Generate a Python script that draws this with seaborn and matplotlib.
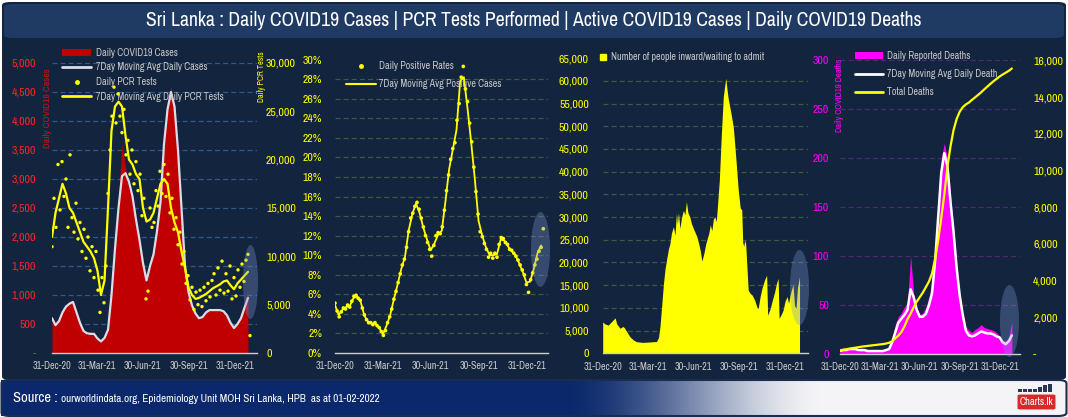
import numpy as np
import pandas as pd
import matplotlib
matplotlib.use("Agg")
import matplotlib.pyplot as plt
import seaborn as sns
from matplotlib import font_manager as fm
from matplotlib.patches import FancyBboxPatch, Ellipse, Patch, Rectangle
from matplotlib.lines import Line2D

# ---------------- DATA ----------------
week_dates = pd.date_range("2020-12-31", periods=57, freq="7D")
scatter_dates = pd.date_range("2020-12-31", periods=100, freq="4D")

daily_cases = [650, 500, 600, 750, 820, 900, 850, 650, 480, 420,
               300, 380, 280, 240, 210, 300, 450, 1200, 2000, 2700,
               3600, 3200, 2800, 2750, 2200, 1900, 1450, 1200, 1550, 1800,
               2300, 2900, 3800, 4300, 4600, 4100, 3300, 2300, 1400, 1000,
               780, 650, 580, 640, 720, 750, 730, 760, 720, 700,
               600, 480, 420, 540, 650, 850, 1050]
cases_7day = [600, 480, 550, 700, 800, 850, 880, 700, 520, 380,
              340, 330, 330, 250, 200, 260, 400, 1000, 1800, 2500,
              3050, 3100, 2950, 2700, 2300, 1950, 1550, 1250, 1500, 1700,
              2100, 2600, 3600, 4200, 4500, 4250, 3500, 2500, 1500, 1050,
              820, 680, 600, 620, 700, 740, 740, 740, 740, 720,
              650, 520, 430, 500, 600, 780, 950]
pcr_7day = [12000, 14500, 16000, 17500, 16500, 15000, 14500, 13500, 12500, 11500,
            11000, 10500, 9800, 8500, 6000, 7500, 15000, 23000, 25500, 26000,
            25500, 22500, 20000, 19500, 18500, 18000, 15000, 13600, 13800, 14500,
            16000, 17500, 18000, 17500, 15000, 13500, 12500, 10500, 8800, 6800,
            6000, 5600, 5700, 5900, 6100, 6400, 6700, 6900, 7100, 7400,
            7500, 7000, 6600, 7200, 7600, 8000, 8400]
pcr_daily = [11000, 16000, 13000, 19500, 14800, 19800, 16200, 18000, 13000, 20500,
             14000, 12500, 15500, 11800, 13500, 10500, 12800, 9800, 12000, 8500,
             11000, 7800, 10500, 6500, 4200, 7800, 5200, 9000, 16500, 21000,
             24500, 27500, 23800, 26800, 24500, 22800, 25200, 20500, 22000, 18500,
             21000, 17500, 19800, 16800, 18500, 14200, 16000, 5600, 6400, 15000,
             13000, 13500, 16800, 15200, 18800, 16500, 19500, 16200, 18500, 14500,
             16000, 12800, 14000, 11200, 12500, 9200, 10500, 7200, 8000, 5500,
             6800, 4500, 6300, 5000, 6500, 4800, 6800, 5400, 7200, 5800,
             7500, 8200, 6000, 8800, 6500, 9500, 6200, 8200, 6400, 9000,
             5600, 7800, 5900, 8600, 6800, 9200, 7400, 9600, 10200, 1800]

positivity_7day = [4.9, 3.9, 4.4, 4.7, 4.8, 5.6, 5.8, 5.2, 3.8, 3.2,
                   3.0, 3.0, 2.6, 1.9, 2.8, 3.9, 5.5, 7.0, 8.6, 9.8,
                   12.5, 14.2, 15.3, 14.3, 12.8, 11.6, 10.5, 11.2, 12.1, 12.5,
                   15.5, 18.8, 20.8, 22.8, 27.8, 28.2, 25.0, 21.5, 17.7, 13.5,
                   12.0, 10.8, 10.0, 10.0, 10.1, 11.6, 11.5, 10.9, 10.4, 10.0,
                   9.2, 8.3, 7.2, 7.3, 8.6, 10.2, 11.0]
positivity_daily = [5.1, 4.3, 3.7, 4.2, 4.6, 4.5, 4.9, 4.7, 5.3, 5.8,
                    5.9, 5.6, 5.4, 4.6, 3.9, 3.4, 3.1, 3.1, 2.9, 3.1,
                    2.8, 2.6, 2.2, 1.8, 2.3, 3.1, 3.7, 4.5, 5.5, 6.3,
                    7.2, 8.1, 9.0, 9.6, 10.8, 12.4, 13.8, 14.3, 15.0, 15.4,
                    14.7, 13.8, 12.9, 12.0, 11.3, 10.6, 9.9, 11.0, 12.0, 12.3,
                    12.2, 12.9, 14.6, 16.6, 18.2, 19.8, 20.9, 21.5, 23.8, 25.5,
                    28.2, 29.3, 27.0, 25.7, 23.5, 21.6, 19.0, 16.5, 14.2, 12.4,
                    11.9, 11.2, 10.6, 9.8, 10.2, 9.7, 10.2, 9.8, 11.1, 11.8,
                    11.7, 11.3, 11.1, 10.6, 10.5, 10.2, 9.9, 9.5, 9.0, 8.5,
                    8.0, 7.0, 6.2, 7.5, 8.2, 9.0, 9.6, 10.4, 10.8, 12.7]

active_days = [0, 4, 11, 18, 25, 28, 35, 40, 43, 48,
               55, 62, 68, 80, 95, 108, 112, 115, 118, 122,
               125, 128, 132, 135, 138, 142, 145, 148, 150, 152,
               155, 158, 162, 165, 168, 171, 175, 178, 183, 189,
               193, 196, 199, 203, 207, 213, 216, 219, 222, 225,
               228, 230, 234, 238, 242, 245, 247, 249, 252, 255,
               258, 262, 265, 268, 272, 276, 279, 281, 283, 285,
               287, 292, 296, 300, 305, 310, 312, 316, 320, 325,
               329, 331, 336, 340, 345, 349, 352, 354, 358, 362,
               366, 370, 373, 376, 380, 382, 385, 388, 391, 395]
active_cases = [6900, 6500, 6200, 7000, 7800, 6500, 5500, 5900, 5700, 4800,
                3600, 2900, 2550, 2400, 2500, 2600, 3500, 5900, 10000, 15400,
                18500, 20500, 23000, 24200, 26500, 27900, 26000, 30800, 28500, 31000,
                27500, 29800, 31500, 30500, 33400, 31000, 30000, 28600, 27200, 25700,
                24000, 22500, 20300, 22000, 24200, 26500, 28300, 27000, 29500, 30100,
                29000, 32000, 38000, 48000, 56500, 59000, 60600, 58500, 56000, 54300,
                52500, 49900, 46000, 41800, 36000, 32000, 31600, 24500, 23500, 25000,
                24000, 13900, 13200, 12800, 11700, 10000, 9900, 12500, 14500, 16200,
                17200, 8400, 9800, 11500, 13500, 15500, 16500, 7700, 8500, 9500,
                11500, 12500, 11000, 12800, 14500, 15000, 10500, 9900, 14500, 16900]

daily_deaths = [4, 6, 5, 7, 6, 7, 5, 6, 4, 5,
                3, 4, 4, 3, 4, 5, 7, 15, 30, 38,
                42, 48, 52, 100, 62, 48, 40, 42, 48, 58,
                75, 110, 160, 200, 215, 200, 165, 130, 95, 62,
                42, 28, 24, 22, 25, 27, 30, 27, 26, 25,
                24, 22, 18, 14, 13, 17, 33]
deaths_7day = [3, 4, 4, 5, 5, 5, 4, 4, 4, 3,
               3, 3, 3, 3, 3, 4, 5, 12, 22, 32,
               36, 40, 45, 66, 58, 45, 38, 38, 41, 50,
               62, 95, 140, 185, 205, 192, 155, 125, 88, 60,
               40, 24, 19, 18, 19, 21, 23, 22, 21, 21,
               20, 18, 17, 12, 10, 13, 19]
total_deaths = [200, 230, 260, 290, 320, 345, 370, 400, 420, 440,
                460, 480, 500, 520, 540, 570, 610, 700, 850, 1000,
                1200, 1500, 1900, 2200, 2550, 2850, 3100, 3350, 3650, 3950,
                4400, 5200, 6200, 7400, 8700, 10200, 11300, 12200, 12800, 13200,
                13450, 13600, 13700, 13850, 13980, 14120, 14260, 14420, 14570, 14720,
                14860, 14990, 15120, 15230, 15330, 15430, 15560]

tick_dates = pd.to_datetime(["2020-12-31", "2021-03-31", "2021-06-30", "2021-09-30", "2021-12-31"])
tick_labels = ["31-Dec-20", "31-Mar-21", "30-Jun-21", "30-Sep-21", "31-Dec-21"]

title_text = ("Sri Lanka : Daily COVID19 Cases | PCR Tests Performed | "
              "Active COVID19 Cases | Daily COVID19 Deaths")
source_head = "Source :"
source_body = "ourworldindata.org, Epidemiology Unit MOH Sri Lanka, HPB  as at 01-02-2022"

# ---------------- STYLE ----------------
sns.set_theme(style="dark")

cond = None
for pref in ["narrow", "condensed"]:
    for f in fm.fontManager.ttflist:
        fn = f.fname.lower()
        if pref in fn and "italic" not in fn and "oblique" not in fn:
            cond = f.name
            break
    if cond:
        break
if cond:
    FAM = cond
    plt.rcParams["font.stretch"] = "condensed"
    K = 1.0
else:
    FAM = "Liberation Sans"
    K = 0.86
plt.rcParams["font.family"] = [FAM, "DejaVu Sans"]

W, H = 1068, 417
BG = "#13243e"
RED = "#c00000"
WHITE_LINE = "#dcdce8"
YEL = "#ffff00"
MAG = "#ff00ff"
GREY_TXT = "#c8c8c8"
LEG_FS = 7.2 * K

def rect(x0, y0, x1, y1):
    return [x0 / W, 1 - y1 / H, (x1 - x0) / W, (y1 - y0) / H]

fig = plt.figure(figsize=(W / 100, H / 100), dpi=100, facecolor="white")

# background panels
fig.add_artist(FancyBboxPatch((2 / W, 1 - 380 / H), 1064 / W, 378 / H,
                              boxstyle="round,pad=0,rounding_size=0.008",
                              transform=fig.transFigure, fc=BG, ec="none", zorder=-10))
fig.add_artist(FancyBboxPatch((4 / W, 1 - 38 / H), 1060 / W, 34 / H,
                              boxstyle="round,pad=0,rounding_size=0.008",
                              transform=fig.transFigure, fc="#1f3a63", ec="none", zorder=-9))

# bottom gradient bar
axg = fig.add_axes(rect(1, 380, 1067, 416), zorder=-8)
xs = np.arange(1066) + 1
t = np.clip((xs - 560) / 270.0, 0, 1)
t = t * t * (3 - 2 * t)
navy = np.array([0.04, 0.16, 0.42])
wht = np.array([0.96, 0.96, 0.97])
grad = (navy[None, :] * (1 - t[:, None]) + wht[None, :] * t[:, None])[None, :, :]
axg.imshow(grad, aspect="auto", extent=(0, 1, 0, 1))
axg.set_axis_off()
fig.add_artist(FancyBboxPatch((1.5 / W, 1 - 416 / H), 1065 / W, 36 / H,
                              boxstyle="round,pad=0,rounding_size=0.008",
                              transform=fig.transFigure, fc="none", ec="#1a2d4f", lw=1.5, zorder=-7))

fig.text(534 / W, 1 - 21 / H, title_text, ha="center", va="center", color="white",
         fontsize=14.2 * K, fontweight="bold")
fig.text(13 / W, 1 - 398 / H, source_head, ha="left", va="center", color="white",
         fontsize=10.5 * K, fontweight="bold")
fig.text(61 / W, 1 - 399 / H, source_body, ha="left", va="center", color="white",
         fontsize=8 * K)

# logo
fig.add_artist(FancyBboxPatch((1017 / W, 1 - 410 / H), 39 / W, 16 / H,
                              boxstyle="round,pad=0,rounding_size=0.003",
                              transform=fig.transFigure, fc="#d42a2a", ec="#f0f0f0", lw=0.8))
fig.text(1036.5 / W, 1 - 402 / H, "Charts.lk", ha="center", va="center", color="white",
         fontsize=7.5 * K, fontweight="bold")
for i, hgt in enumerate([3, 3, 3, 3, 5, 7, 8]):
    fig.add_artist(Rectangle(((1018 + i * 5) / W, 1 - 392 / H), 3.5 / W, hgt / H,
                             transform=fig.transFigure, fc="#2a3550", ec="none"))

start = pd.Timestamp("2020-12-31")

def base_axes(r, ndays, ylim):
    ax = fig.add_axes(r)
    ax.set_facecolor("none")
    ax.set_xlim(start, start + pd.Timedelta(days=ndays))
    ax.set_ylim(*ylim)
    for s in ax.spines.values():
        s.set_visible(False)
    ax.spines["bottom"].set_visible(True)
    ax.spines["bottom"].set_color("#cfcfcf")
    ax.spines["bottom"].set_linewidth(1.0)
    ax.set_xticks(tick_dates)
    ax.set_xticklabels(tick_labels)
    ax.tick_params(axis="x", length=0, pad=6, labelsize=7.3 * K, labelcolor=GREY_TXT)
    for lb in ax.get_xticklabels():
        lb.set_fontweight("bold")
    ax.grid(False)
    return ax

def twin(ax, ylim):
    axr = ax.twinx()
    axr.set_facecolor("none")
    axr.set_ylim(*ylim)
    for s in axr.spines.values():
        s.set_visible(False)
    axr.grid(False)
    return axr

def yticks(ax, ticks, labels, color, pad, size=8.5):
    ax.set_yticks(ticks)
    ax.set_yticklabels(labels)
    ax.tick_params(axis="y", length=0, pad=pad, labelsize=size * K, labelcolor=color)
    for lb in ax.get_yticklabels():
        lb.set_fontweight("bold")
    ax.set_ylabel("")
    ax.set_xlabel("")

def grid(ax, levels, color):
    for v in levels:
        ax.axhline(v, color=color, lw=0.9, ls=(0, (4, 2.5)), zorder=0.5)

def fmt(v, zero="-"):
    return zero if v == 0 else f"{v:,}"

leg_kw = dict(frameon=False, fontsize=LEG_FS, borderpad=0, borderaxespad=0,
              loc="upper left", bbox_transform=fig.transFigure, labelcolor=GREY_TXT)

# ---------------- PANEL 1 ----------------
ax1 = base_axes(rect(52, 45, 257, 353), 410, (0, 5310))
ax1r = twin(ax1, (0, 31862))
case_ticks = list(range(0, 5001, 500))
grid(ax1, case_ticks[1:], "#2b5a8c")
ax1.fill_between(week_dates, daily_cases, color=RED, lw=0, zorder=1)
sns.lineplot(x=week_dates, y=cases_7day, ax=ax1, color=WHITE_LINE, lw=1.6, zorder=2, legend=False)
sns.scatterplot(x=scatter_dates, y=pcr_daily, ax=ax1r, color=YEL, s=6, edgecolor="none", zorder=3, legend=False)
sns.lineplot(x=week_dates, y=pcr_7day, ax=ax1r, color=YEL, lw=1.6, zorder=4, legend=False)
yticks(ax1, case_ticks, [fmt(v) for v in case_ticks], "#ff2424", 11.5)
pcr_ticks = list(range(0, 30001, 5000))
yticks(ax1r, pcr_ticks, [fmt(v, "0") for v in pcr_ticks], YEL, 6.5)
ax1r.tick_params(axis="y", left=False, right=False)
ax1.legend(handles=[Patch(fc=RED, ec="none"),
                    Line2D([], [], color=WHITE_LINE, lw=2),
                    Line2D([], [], ls="none", marker="o", ms=2.5, color=YEL),
                    Line2D([], [], color=YEL, lw=2)],
           labels=["Daily COVID19 Cases", "7Day Moving Avg Daily Cases",
                   "Daily PCR Tests", "7Day Moving Avg Daily PCR Tests"],
           bbox_to_anchor=(62 / W, 1 - 48 / H), handlelength=2.9, handletextpad=0.45,
           labelspacing=0.45, **leg_kw)
fig.text(48 / W, 1 - 108 / H, "Daily COVID19 Cases", rotation=90, ha="center", va="center",
         color="#d01010", fontsize=7 * K)
fig.text(262 / W, 1 - 77 / H, "Daily PCR Tests", rotation=90, ha="center", va="center",
         color=YEL, fontsize=6 * K, fontweight="bold")

# ---------------- PANEL 2 ----------------
ax2 = base_axes(rect(335, 45, 548, 353), 405, (0, 31.49))
pos_ticks = list(range(0, 31, 2))
grid(ax2, pos_ticks[1:-1], "#3d5a40")
sns.lineplot(x=week_dates, y=positivity_7day, ax=ax2, color=YEL, lw=1.3, zorder=2, legend=False)
sns.scatterplot(x=scatter_dates, y=positivity_daily, ax=ax2, color=YEL, s=7, edgecolor="none", zorder=3, legend=False)
yticks(ax2, pos_ticks, [f"{v}%" for v in pos_ticks], YEL, 9.4)
ax2.legend(handles=[Line2D([], [], ls="none", marker="o", ms=2.5, color=YEL),
                    Line2D([], [], color=YEL, lw=1.5)],
           labels=["Daily Positive Rates", "7Day Moving Avg Positive Cases"],
           bbox_to_anchor=(346 / W, 1 - 61 / H), handlelength=3.0, handletextpad=0.3,
           labelspacing=0.8, **leg_kw)

# ---------------- PANEL 3 ----------------
ax3 = base_axes(rect(602.7, 45, 808, 353.3), 412, (0, 67900))
act_ticks = list(range(0, 65001, 5000))
grid(ax3, act_ticks[1:-1], "#3d5a40")
active_dates = start + pd.to_timedelta(active_days, unit="D")
ax3.fill_between(active_dates, active_cases, color=YEL, lw=0, zorder=1)
yticks(ax3, act_ticks, [fmt(v, "0") for v in act_ticks], YEL, 9.9)
ax3.legend(handles=[Line2D([], [], ls="none", marker="s", ms=5, color=YEL)],
           labels=["Number of people inward/waiting to admit"],
           bbox_to_anchor=(599 / W, 1 - 52 / H), handlelength=0.8, handletextpad=0.4, **leg_kw)

# ---------------- PANEL 4 ----------------
ax4 = base_axes(rect(840, 45, 1020, 354), 410.6, (0, 315.3))
ax4r = twin(ax4, (0, 16839))
d_ticks = list(range(0, 301, 50))
grid(ax4, d_ticks[1:], "#4b2a70")
ax4.fill_between(week_dates, daily_deaths, color=MAG, lw=0, zorder=1)
sns.lineplot(x=week_dates, y=deaths_7day, ax=ax4, color="white", lw=1.8, zorder=2, legend=False)
sns.lineplot(x=week_dates, y=total_deaths, ax=ax4r, color=YEL, lw=1.6, zorder=3, legend=False)
yticks(ax4, d_ticks, [fmt(v, "0") for v in d_ticks], MAG, 8)
td_ticks = list(range(0, 16001, 2000))
yticks(ax4r, td_ticks, [fmt(v) for v in td_ticks], YEL, 9.5)
ax4r.tick_params(axis="y", left=False, right=False)
ax4.legend(handles=[Patch(fc=MAG, ec="none"),
                    Line2D([], [], color="white", lw=2),
                    Line2D([], [], color=YEL, lw=2)],
           labels=["Daily Reported Deaths", "7Day Moving Avg Daily Death", "Total Deaths"],
           bbox_to_anchor=(855 / W, 1 - 51 / H), handlelength=2.8, handletextpad=0.4,
           labelspacing=0.8, **leg_kw)
fig.text(839 / W, 1 - 95 / H, "Daily COVID19 Deaths", rotation=90, ha="center", va="center",
         color=MAG, fontsize=6.3 * K, fontweight="bold")

# highlight ellipses
for cx, cy, ew, eh in [(250.5, 282, 15, 74), (540.5, 249.5, 19, 75),
                       (799.5, 287.5, 19, 75), (1009.5, 321, 19, 72)]:
    fig.add_artist(Ellipse((cx / W, 1 - cy / H), ew / W, eh / H, transform=fig.transFigure,
                           fc="#7f9ad8", ec="none", alpha=0.33, zorder=5))

fig.savefig("out.png", dpi=100, facecolor="white")
